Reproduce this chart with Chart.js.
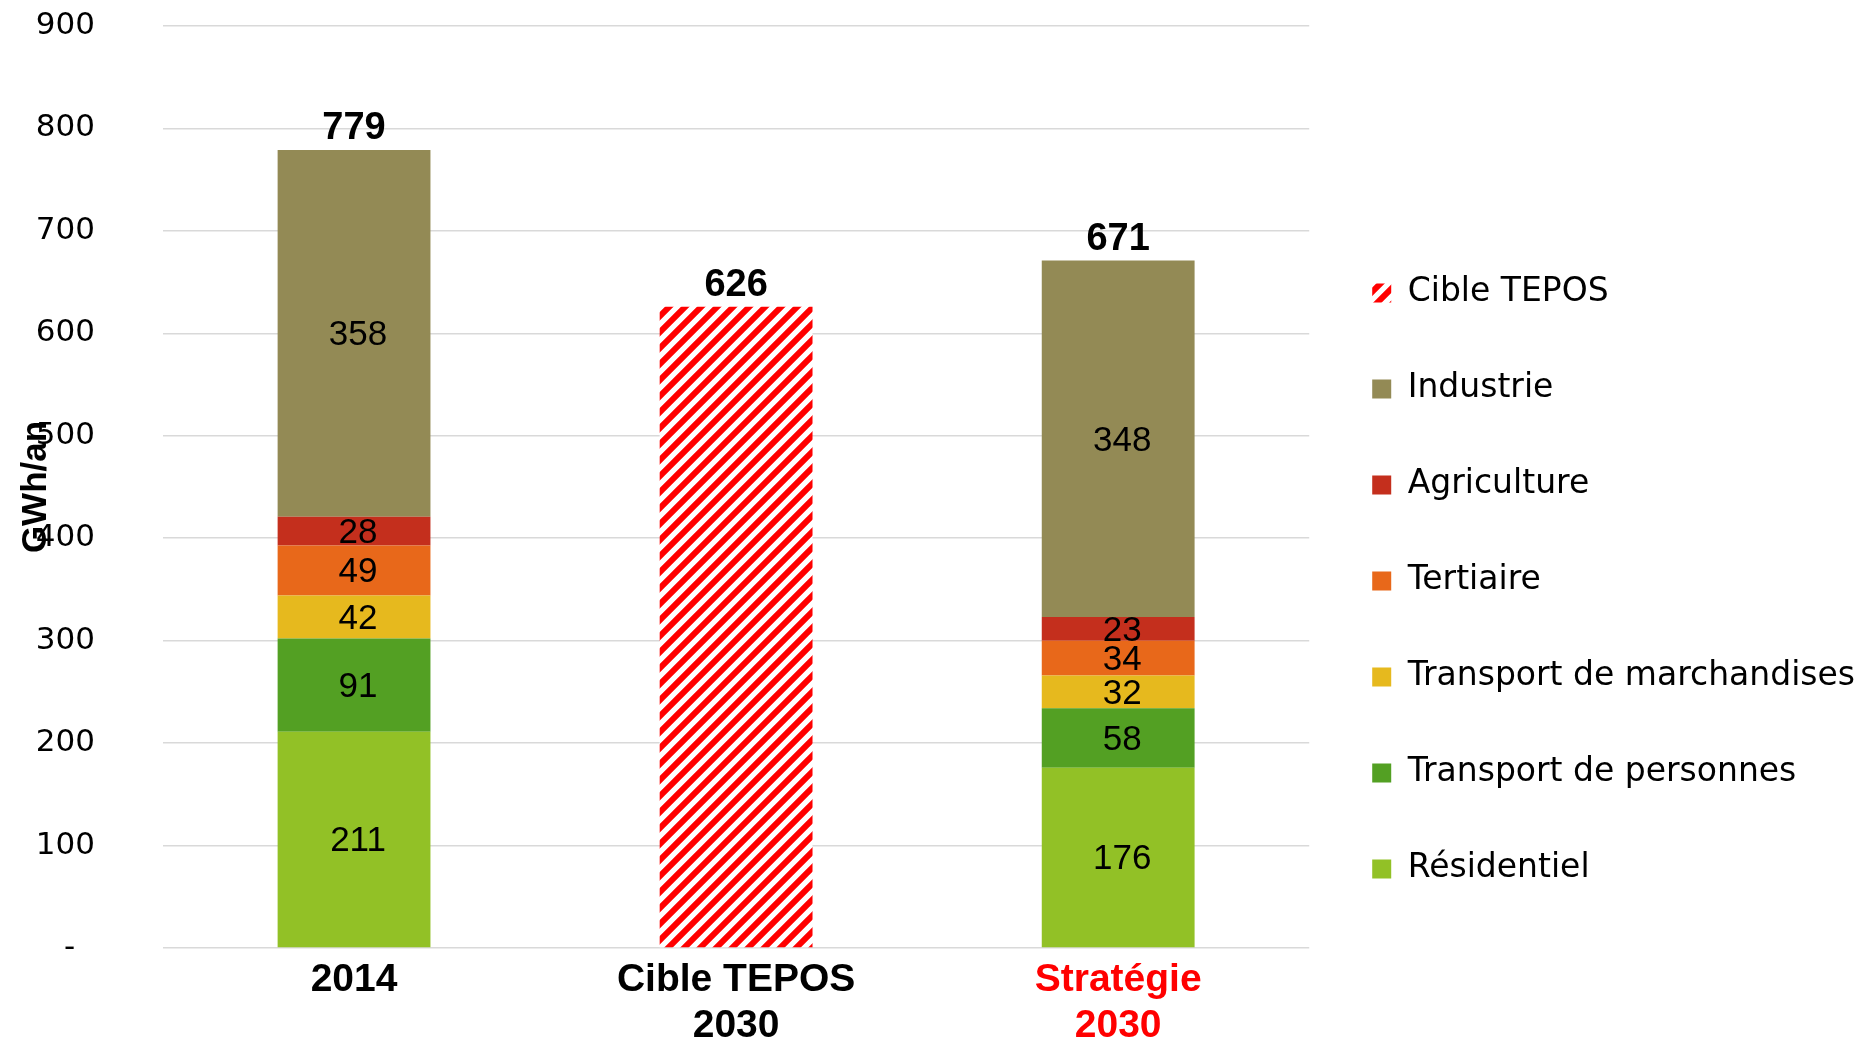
<!DOCTYPE html>
<html>
<head>
<meta charset="utf-8">
<script src="https://cdn.jsdelivr.net/npm/chart.js@4.4.1/dist/chart.umd.min.js"></script>
<style>
    html, body { margin: 0; padding: 0; background: #fff; }
    #wrap { width: 1865px; height: 1046px; position: relative; }
</style>
</head>
<body>
<div id="wrap"><canvas id="consoChart"></canvas></div>
<script>
// données (GWh/an)
const categories = [['2014'], ['Cible TEPOS', '2030'], ['Stratégie', '2030']];
const residentiel = [211, null, 176];
const transportPersonnes = [91, null, 58];
const transportMarchandises = [42, null, 32];
const tertiaire = [49, null, 34];
const agriculture = [28, null, 23];
const industrie = [358, null, 348];
const cibleTepos = [null, 626, null];
const yTickLabels = ['-', '100', '200', '300', '400', '500', '600', '700', '800', '900'];

const canvas = document.getElementById('consoChart');
const ctx = canvas.getContext('2d');

function hachures() {
    const c = document.createElement('canvas');
    c.width = 16;
    c.height = 16;
    const g = c.getContext('2d');
    g.fillStyle = '#ffffff';
    g.fillRect(0, 0, 16, 16);
    g.strokeStyle = '#ff0000';
    g.lineWidth = 6;
    g.beginPath();
    g.moveTo(-8, 8); g.lineTo(8, -8);
    g.moveTo(0, 16); g.lineTo(16, 0);
    g.moveTo(8, 24); g.lineTo(24, 8);
    g.stroke();
    return ctx.createPattern(c, 'repeat');
}

// valeurs dans les segments + totaux au-dessus des barres
const etiquettes = {
    id: 'etiquettes',
    afterDatasetsDraw(chart) {
        const c = chart.ctx;
        c.save();
        c.textAlign = 'center';
        c.textBaseline = 'middle';
        c.fillStyle = '#000';
        c.font = '35px "Liberation Sans", Arial, sans-serif';
        chart.data.datasets.forEach((ds, i) => {
            if (ds.label === 'Cible TEPOS') return;
            chart.getDatasetMeta(i).data.forEach((bar, j) => {
                const v = ds.data[j];
                if (v == null) return;
                c.fillText(v, bar.x + 4, (bar.y + bar.base) / 2 + 2);
            });
        });
        c.font = 'bold 38px "Liberation Sans", Arial, sans-serif';
        categories.forEach((cat, j) => {
            let total = 0, haut = Infinity, x = 0;
            chart.data.datasets.forEach((ds, i) => {
                const v = ds.data[j];
                if (v == null) return;
                total += v;
                const bar = chart.getDatasetMeta(i).data[j];
                haut = Math.min(haut, bar.y);
                x = bar.x;
            });
            c.fillText(total, x, haut - 21);
        });
        c.restore();
    }
};

new Chart(ctx, {
    type: 'bar',
    data: {
        labels: categories,
        datasets: [
            { label: 'Résidentiel', data: residentiel, backgroundColor: '#92c126' },
            { label: 'Transport de personnes', data: transportPersonnes, backgroundColor: '#53a023' },
            { label: 'Transport de marchandises', data: transportMarchandises, backgroundColor: '#e6b91e' },
            { label: 'Tertiaire', data: tertiaire, backgroundColor: '#e8681a' },
            { label: 'Agriculture', data: agriculture, backgroundColor: '#c42f1d' },
            { label: 'Industrie', data: industrie, backgroundColor: '#938a55' },
            { label: 'Cible TEPOS', data: cibleTepos, backgroundColor: hachures() }
        ]
    },
    options: {
        responsive: true,
        maintainAspectRatio: false,
        animation: false,
        categoryPercentage: 1,
        barPercentage: 0.4,
        layout: { padding: 0 },
        plugins: {
            tooltip: { enabled: false },
            legend: {
                position: 'right',
                align: 'start',
                reverse: true,
                maxWidth: 600,
                title: { display: true, text: ' ', padding: { top: 199, bottom: 0 } },
                labels: {
                    boxWidth: 19,
                    boxHeight: 19,
                    padding: 63,
                    color: '#000',
                    font: { family: '"DejaVu Sans", sans-serif', size: 33 }
                }
            }
        },
        scales: {
            x: {
                stacked: true,
                grid: { display: false, drawTicks: false },
                border: { display: false },
                ticks: {
                    padding: 9,
                    color: c => c.index === 2 ? '#ff0000' : '#000',
                    font: { family: '"Liberation Sans", Arial, sans-serif', size: 39, weight: 'bold', lineHeight: 1.18 }
                },
                afterFit(scale) { scale.height = 98; }
            },
            y: {
                stacked: true,
                min: 0,
                max: 900,
                ticks: {
                    stepSize: 100,
                    padding: 68,
                    color: '#000',
                    font: { family: '"DejaVu Sans", sans-serif', size: 31 },
                    callback: (value, index) => yTickLabels[index] === '-' ? '-  ' : yTickLabels[index]
                },
                grid: { color: '#d9d9d9', lineWidth: 1.5, drawTicks: false },
                border: { display: false },
                title: {
                    display: true,
                    text: 'GWh/an',
                    color: '#000',
                    padding: { top: 15, bottom: 0 },
                    font: { family: '"Liberation Sans", Arial, sans-serif', size: 35, weight: 'bold' }
                },
                afterFit(scale) {
                    scale.width = 163;
                    scale.paddingTop = 26;
                    scale.paddingBottom = 20;
                }
            }
        }
    },
    plugins: [etiquettes]
});
</script>
</body>
</html>
